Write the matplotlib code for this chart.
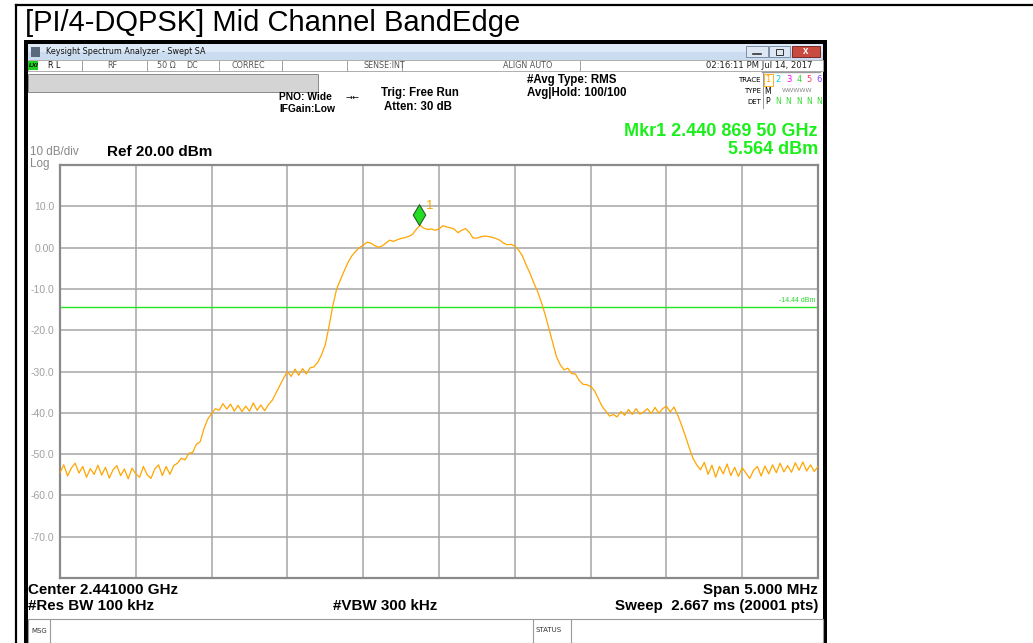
import numpy as np
import matplotlib.pyplot as plt
from matplotlib.patches import Rectangle
from matplotlib.path import Path

# sweep settings
center_ghz = 2.441
span_mhz = 5.0
ref_dbm = 20.0
db_per_div = 10
limit_dbm = -14.44
mkr_freq_ghz = 2.4408695
mkr_level_dbm = 5.564

# trace 1 (dBm), evenly spaced across the span
level_dbm = [
    -54.5, -52.6, -55.3, -53.4, -52.2, -54.6, -53.0, -55.6, -53.5, -54.9,
    -52.7, -55.1, -53.2, -55.8, -53.8, -52.8, -55.2, -53.6, -56.0, -53.4,
    -54.8, -55.6, -53.0, -55.0, -55.9, -53.6, -52.6, -55.2, -53.0, -54.9,
    -52.8, -52.2, -51.0, -51.4, -49.8, -49.6, -47.6, -47.0, -43.8, -41.5,
    -40.2, -39.0, -39.4, -37.8, -39.1, -37.9, -39.6, -38.2, -39.7, -38.4,
    -39.6, -37.6, -39.4, -38.1, -39.5, -38.0, -37.0, -35.2, -33.4, -31.6,
    -30.0, -31.2, -29.4, -30.9, -29.3, -30.6, -29.1, -28.9, -27.8, -26.0,
    -23.5, -19.0, -14.0, -10.0, -7.8, -5.6, -3.6, -2.0, -0.9, 0.0,
    0.6, 1.3, 1.1, 0.5, 0.1, 0.4, 1.1, 1.8, 1.5, 1.9,
    2.2, 2.4, 2.7, 3.2, 4.4, 5.4, 4.7, 4.4, 4.5, 4.2,
    4.5, 5.3, 5.0, 4.8, 4.5, 3.6, 4.2, 4.6, 3.7, 2.3,
    2.3, 2.6, 2.8, 2.7, 2.5, 2.2, 1.8, 1.1, 0.7, 0.8,
    0.4, -0.6, -2.0, -4.2, -6.2, -8.5, -10.6, -13.2, -16.2, -19.6,
    -23.0, -26.4, -28.4, -29.6, -29.2, -30.5, -30.6, -32.2, -33.1, -33.2,
    -33.6, -34.6, -36.5, -38.4, -39.6, -40.8, -40.4, -41.0, -39.7, -40.6,
    -39.2, -40.4, -39.0, -40.3, -39.8, -39.0, -40.2, -38.7, -40.1, -39.0,
    -38.4, -39.8, -38.6, -40.6, -43.0, -45.6, -48.4, -51.0, -52.6, -53.8,
    -52.0, -54.9, -52.7, -55.6, -53.0, -54.8, -52.4, -55.2, -53.2, -55.4,
    -53.3, -54.6, -55.9, -53.9, -53.0, -55.3, -52.9, -54.8, -52.6, -54.5,
    -52.2, -54.3, -52.8, -54.4, -52.1, -53.9, -51.9, -54.1, -52.6, -54.2,
    -53.0,
]

ytick_vals = [10, 0, -10, -20, -30, -40, -50, -60, -70]
ytick_labels = ['10.0', '0.00', '-10.0', '-20.0', '-30.0', '-40.0',
                '-50.0', '-60.0', '-70.0']

W, H = 1033, 643
plt.rcParams['font.family'] = ['Liberation Sans', 'DejaVu Sans']
fig = plt.figure(figsize=(W / 100, H / 100), dpi=100)


def fx(x):
    return x / W


def fy(y):
    return 1 - y / H


def box(x0, y0, x1, y1, fc='none', ec='none', lw=1.0, z=1):
    fig.add_artist(Rectangle((fx(x0), fy(y1)), (x1 - x0) / W, (y1 - y0) / H,
                             transform=fig.transFigure, facecolor=fc,
                             edgecolor=ec, linewidth=lw, zorder=z))


def line(x0, y0, x1, y1, c='black', lw=1.0, z=2):
    fig.add_artist(plt.Line2D([fx(x0), fx(x1)], [fy(y0), fy(y1)],
                              transform=fig.transFigure, color=c,
                              linewidth=lw, zorder=z))


def txt(x, y, s, size=7, ha='left', va='center', color='black',
        weight='normal', **kw):
    fig.text(fx(x), fy(y), s, fontsize=size, ha=ha, va=va, color=color,
             fontweight=weight, zorder=5, **kw)


# document frame + caption
line(16, 5, 1033, 5, lw=1.6)
line(16, 5, 16, 643, lw=1.6)
txt(25, 23, '[PI/4-DQPSK] Mid Channel BandEdge', size=21)

# analyzer window
box(24, 40, 827, 643, fc='black', z=0)
box(28, 44, 823, 643, fc='white', z=0)
box(28, 44, 823, 52, fc='#dde9f6')
box(28, 52, 823, 60, fc='#cbdcf0')
box(31, 47, 40, 57, fc='#5a6a7c')
txt(46, 52, 'Keysight Spectrum Analyzer - Swept SA', size=5.8,
    family='DejaVu Sans', color='#111')
box(746, 46, 768, 57, fc='#dde7f3', ec='#7c8fa8', lw=0.7)
box(769, 46, 790, 57, fc='#dde7f3', ec='#7c8fa8', lw=0.7)
box(792, 46, 820, 57, fc='#c94a3e', ec='#7a2a25', lw=0.7)
line(753, 53.5, 761, 53.5, c='#333', lw=1.2, z=3)
box(776, 49, 783, 55, ec='#333', lw=0.7, z=3)
txt(806, 51, 'x', size=7, ha='center', color='white', weight='bold')

# status row
box(28, 60, 823, 71, fc='white', ec='#a0a0a0', lw=0.6)
box(28, 61, 38, 70, fc='#1fcf1f')
txt(29, 65.5, 'LXI', size=4.5, weight='bold', style='italic')
for xd in [82, 147, 219, 282, 347, 402, 580]:
    line(xd, 61, xd, 71, c='#a0a0a0', lw=0.7)
for xs, s, c in [(48, 'R L', '#111'), (107, 'RF', '#555'),
                 (157, '50 \u03a9', '#555'), (186, 'DC', '#555'),
                 (231, 'CORREC', '#555'), (363, 'SENSE:INT', '#555'),
                 (503, 'ALIGN AUTO', '#555')]:
    txt(xs, 66, s, size=5.8, color=c, family='DejaVu Sans')
txt(812, 66, '02:16:11 PM Jul 14, 2017', size=6.1, ha='right',
    family='DejaVu Sans', color='#222')

# header block
box(28, 74, 318, 92, fc='#d4d4d4', ec='#8a8a8a', lw=0.7)
txt(279, 97, 'PNO: Wide', size=7.4, weight='bold')
txt(279, 109, 'IFGain:Low', size=7.4, weight='bold')
txt(353, 97, '\u2192\u2190', size=6, ha='center', family='DejaVu Sans')
txt(381, 93, 'Trig: Free Run', size=8.3, weight='bold')
txt(384, 107, 'Atten: 30 dB', size=8.3, weight='bold')
txt(527, 80, '#Avg Type: RMS', size=8.3, weight='bold')
txt(527, 93, 'Avg|Hold: 100/100', size=8.3, weight='bold')

line(762, 72, 820, 72, c='#999', lw=1.0)
line(763, 73, 763, 108, c='#999', lw=0.7)
txt(761, 80, 'TRACE', size=5, ha='right', family='DejaVu Sans')
txt(761, 91, 'TYPE', size=5, ha='right', family='DejaVu Sans')
txt(761, 102, 'DET', size=5, ha='right', family='DejaVu Sans')
trace_cols = ['#ffa500', '#00d8d8', '#ff00ff', '#33dd33', '#ff3366', '#8844ff']
for k, c in enumerate(trace_cols):
    txt(768 + k * 10.3, 80, str(k + 1), size=6, ha='center', color=c,
        family='DejaVu Sans')
box(764, 74, 773, 86, ec='#ffa500', lw=0.6)
txt(768, 91, 'M', size=5.5, ha='center', family='DejaVu Sans')
txt(797, 91, 'WWWWW', size=4.5, ha='center', color='#888',
    family='DejaVu Sans')
txt(768, 102, 'P', size=5.5, ha='center', family='DejaVu Sans')
for k in range(5):
    txt(778.3 + k * 10.3, 102, 'N', size=5.5, ha='center', color='#33dd33',
        family='DejaVu Sans')

txt(818, 131, 'Mkr1 2.440 869 50 GHz', size=13, ha='right',
    color='#19f019', weight='bold')
txt(818, 149, '5.564 dBm', size=13, ha='right', color='#19f019',
    weight='bold')
txt(30, 152, '10 dB/div', size=8.4, color='#888')
txt(30, 164, 'Log', size=8.4, color='#888')
txt(107, 152, 'Ref 20.00 dBm', size=11, weight='bold')

# footer
txt(28, 590, 'Center 2.441000 GHz', size=10.9, weight='bold')
txt(818, 590, 'Span 5.000 MHz', size=10.9, ha='right', weight='bold')
txt(28, 606, '#Res BW 100 kHz', size=10.9, weight='bold')
txt(333, 606, '#VBW 300 kHz', size=10.9, weight='bold')
txt(818, 606, 'Sweep  2.667 ms (20001 pts)', size=10.9, ha='right',
    weight='bold')
box(28, 619, 823, 643, fc='white', ec='#9a9a9a', lw=0.8)
line(50, 619, 50, 643, c='#9a9a9a', lw=0.8)
line(533, 619, 533, 643, c='#9a9a9a', lw=0.8)
line(571, 619, 571, 643, c='#9a9a9a', lw=0.8)
txt(31, 631, 'MSG', size=5, color='#333', family='DejaVu Sans')
txt(535, 630, 'STATUS', size=5, color='#333', family='DejaVu Sans')

# spectrum plot
ax = fig.add_axes([fx(60), fy(578), (818 - 60) / W, (578 - 165) / H])
f0 = center_ghz - span_mhz / 2000
f1 = center_ghz + span_mhz / 2000
freq_ghz = np.linspace(f0, f1, len(level_dbm))
ax.set_xlim(f0, f1)
ax.set_ylim(ref_dbm - 10 * db_per_div, ref_dbm)
ax.set_xticks(np.linspace(f0, f1, 11))
ax.set_yticks(ytick_vals)
ax.set_yticklabels(ytick_labels)
ax.tick_params(axis='x', length=0, labelbottom=False)
ax.tick_params(axis='y', length=0, pad=4, labelsize=7.5, labelcolor='#a0a0a0')
ax.grid(True, color='#a5a5a5', linewidth=1.1)
for sp in ax.spines.values():
    sp.set_color('#8a8a8a')
    sp.set_linewidth(1.6)

ax.plot(freq_ghz, level_dbm, color='#ffa500', linewidth=0.9, zorder=3)
ax.axhline(limit_dbm, color='#22e622', linewidth=1.0, zorder=2)
ax.text(0.997, limit_dbm + 0.8, '-14.44 dBm', transform=ax.get_yaxis_transform(),
        ha='right', va='bottom', fontsize=5, color='#22d822')

# marker diamond sitting on the trace point
diamond = Path([(0, 0), (0.6, 1), (0, 2), (-0.6, 1), (0, 0)],
               [Path.MOVETO, Path.LINETO, Path.LINETO, Path.LINETO,
                Path.CLOSEPOLY])
ax.plot([mkr_freq_ghz], [mkr_level_dbm], marker=diamond, markersize=30,
        markerfacecolor='#22dd22', markeredgecolor='#2a5a2a',
        markeredgewidth=0.8, linestyle='none', zorder=4)
ax.annotate('1', (mkr_freq_ghz, mkr_level_dbm), xytext=(5, 11),
            textcoords='offset points', color='#ffa500', fontsize=9.5)

fig.savefig('out.png', dpi=100)
